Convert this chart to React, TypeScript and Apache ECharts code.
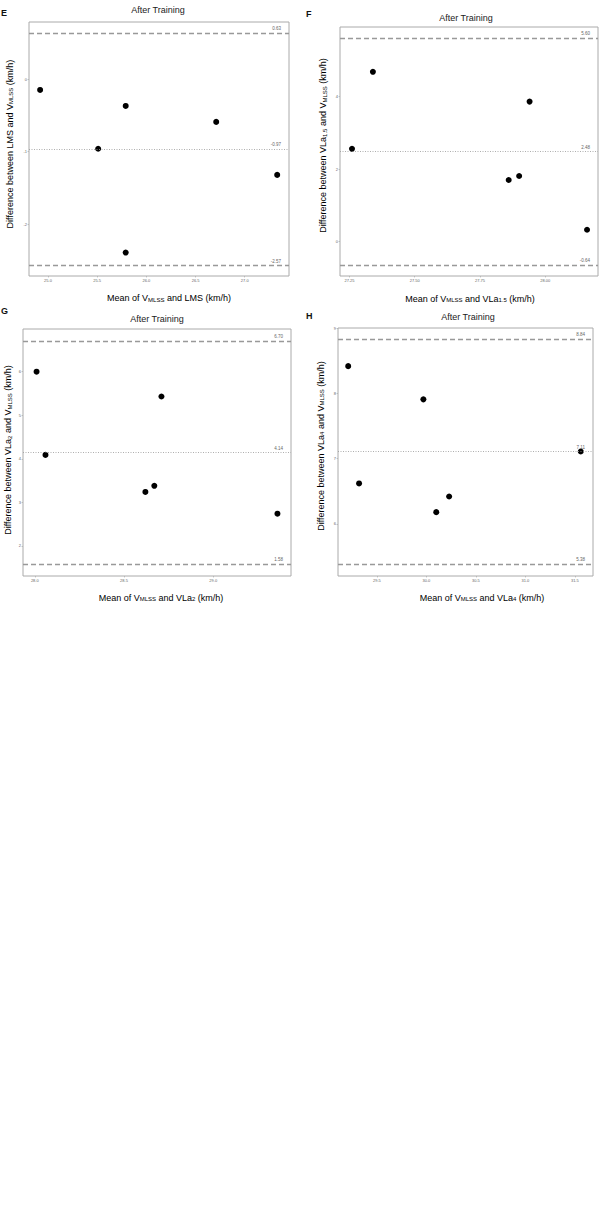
import React, { useEffect, useRef } from "react";
import * as echarts from "echarts";

// ---- data ----
const E_X = [24.92, 25.51, 25.79, 26.71, 27.33, 25.79];
const E_Y = [-0.15, -0.96, -0.37, -0.59, -1.32, -2.39];
const E_LINES = [0.63, -0.97, -2.57];

const F_X = [27.26, 27.34, 27.94, 27.86, 27.9, 28.16];
const F_Y = [2.56, 4.68, 3.86, 1.7, 1.81, 0.33];
const F_LINES = [5.6, 2.48, -0.64];

const G_X = [28.01, 28.71, 28.06, 28.62, 28.67, 29.36];
const G_Y = [6.0, 5.43, 4.09, 3.24, 3.38, 2.74];
const G_LINES = [6.7, 4.14, 1.58];

const H_X = [29.21, 29.97, 31.56, 29.32, 30.1, 30.23];
const H_Y = [8.42, 7.91, 7.11, 6.62, 6.18, 6.42];
const H_LINES = [8.84, 7.11, 5.38];

const E_XTICKS = [25.0, 25.5, 26.0, 26.5, 27.0];
const E_YTICKS = [-2, -1, 0];
const F_XTICKS = [27.25, 27.5, 27.75, 28.0];
const F_YTICKS = [0, 2, 4];
const G_XTICKS = [28.0, 28.5, 29.0];
const G_YTICKS = [2, 3, 4, 5, 6];
const H_XTICKS = [29.5, 30.0, 30.5, 31.0, 31.5];
const H_YTICKS = [6, 7, 8, 9];

const PANEL_LETTERS = ["E", "F", "G", "H"];
const PANEL_TITLE = "After Training";
const X_TITLES = [
  ["Mean of V", "MLSS", " and LMS (km/h)", ""],
  ["Mean of V", "MLSS", " and VLa", "1.5", " (km/h)"],
  ["Mean of V", "MLSS", " and VLa", "2", " (km/h)"],
  ["Mean of V", "MLSS", " and VLa", "4", " (km/h)"],
];
const Y_TITLES = [
  ["Difference between LMS and V", "MLSS", " (km/h)"],
  ["Difference between VLa", "1.5", " and V", "MLSS", " (km/h)"],
  ["Difference between VLa", "2", " and V", "MLSS", " (km/h)"],
  ["Difference between VLa", "4", " and V", "MLSS", " (km/h)"],
];

// ---- layout ----
const FONT = "Liberation Sans, Arial, sans-serif";
const panels = [
  {
    x: E_X, y: E_Y, lines: E_LINES, xt: E_XTICKS, yt: E_YTICKS, xd: 1,
    grid: { left: 29, top: 22, width: 260, height: 254 },
    xr: [24.807, 27.45], yr: [-2.713, 0.786],
    letter: [1, 12.5], title: [158, 9.5], xTitle: [169, 296.5], yTitle: [8, 144],
  },
  {
    x: F_X, y: F_Y, lines: F_LINES, xt: F_XTICKS, yt: F_YTICKS, xd: 2,
    grid: { left: 340, top: 27, width: 258, height: 249 },
    xr: [27.214, 28.202], yr: [-0.944, 5.915],
    letter: [306, 13.5], title: [466, 18], xTitle: [470, 297], yTitle: [321.5, 145.5],
  },
  {
    x: G_X, y: G_Y, lines: G_LINES, xt: G_XTICKS, yt: G_YTICKS, xd: 1,
    grid: { left: 23, top: 329, width: 268, height: 247 },
    xr: [27.934, 29.436], yr: [1.31, 6.98],
    letter: [1, 311], title: [157, 319], xTitle: [161, 596], yTitle: [6.5, 450],
  },
  {
    x: H_X, y: H_Y, lines: H_LINES, xt: H_XTICKS, yt: H_YTICKS, xd: 1,
    grid: { left: 338, top: 328, width: 255, height: 248 },
    xr: [29.107, 31.684], yr: [5.2, 9.005],
    letter: [306, 315.5], title: [468, 317], xTitle: [482, 596], yTitle: [319, 446],
  },
];

const rich = {
  n: { fontSize: 9, fontFamily: FONT, color: "#222", lineHeight: 12, verticalAlign: "bottom" },
  s: { fontSize: 6, fontFamily: FONT, color: "#222", lineHeight: 8, verticalAlign: "bottom" },
};

function richText(parts: string[]) {
  return parts
    .map((p, i) => (p === "" ? "" : `{${i % 2 === 0 ? "n" : "s"}|${p}}`))
    .join("");
}

export default function App() {
  const ref = useRef<HTMLDivElement>(null);
  useEffect(() => {
    if (!ref.current) return;
    const chart = echarts.init(ref.current, null, { renderer: "svg" });

    const tickLabel = { fontSize: 4, color: "#666", fontFamily: FONT };
    const option: any = {
      animation: false,
      backgroundColor: "#fff",
      grid: panels.map((p) => ({
        ...p.grid,
        show: true,
        borderColor: "#aaa",
        borderWidth: 1,
        backgroundColor: "#fff",
        containLabel: false,
      })),
      xAxis: panels.map((p, i) => ({
        type: "value",
        gridIndex: i,
        min: p.xr[0],
        max: p.xr[1],
        axisLine: { show: false, onZero: false },
        splitLine: { show: false },
        axisTick: { show: true, length: 1.5, lineStyle: { color: "#999", width: 0.5 }, customValues: p.xt },
        axisLabel: {
          ...tickLabel,
          margin: 2,
          customValues: p.xt,
          formatter: (v: number) => v.toFixed(p.xd),
        },
      })),
      yAxis: panels.map((p, i) => ({
        type: "value",
        gridIndex: i,
        min: p.yr[0],
        max: p.yr[1],
        axisLine: { show: false, onZero: false },
        splitLine: { show: false },
        axisTick: { show: true, length: 1.5, lineStyle: { color: "#999", width: 0.5 }, customValues: p.yt },
        axisLabel: {
          ...tickLabel,
          margin: 2,
          customValues: p.yt,
          formatter: (v: number) => String(v),
        },
      })),
      series: panels.map((p, i) => ({
        type: "scatter",
        xAxisIndex: i,
        yAxisIndex: i,
        data: p.x.map((xv, k) => [xv, p.y[k]]),
        symbolSize: 6,
        itemStyle: { color: "#000", opacity: 1 },
        silent: true,
        markLine: {
          silent: true,
          symbol: "none",
          data: p.lines.map((v, k) => ({
            yAxis: v,
            lineStyle:
              k === 1
                ? { color: "#999", width: 0.8, type: [1, 1.5] }
                : { color: "#999", width: 1.3, type: [5, 3] },
            label: {
              show: true,
              position: "insideEndTop",
              formatter: v.toFixed(2),
              fontSize: 4.5,
              color: "#666",
              fontFamily: FONT,
              distance: [8, 2],
            },
          })),
        },
      })),
      graphic: panels.flatMap((p, i) => [
        {
          type: "text",
          x: p.letter[0],
          y: p.letter[1],
          style: {
            text: PANEL_LETTERS[i],
            fontSize: 9,
            fontWeight: "bold",
            fontFamily: FONT,
            fill: "#111",
            textAlign: "left",
            textVerticalAlign: "middle",
          },
        },
        {
          type: "text",
          x: p.title[0],
          y: p.title[1],
          style: {
            text: PANEL_TITLE,
            fontSize: 9,
            fontFamily: FONT,
            fill: "#222",
            textAlign: "center",
            textVerticalAlign: "middle",
          },
        },
        {
          type: "text",
          x: p.xTitle[0],
          y: p.xTitle[1],
          style: {
            text: richText(X_TITLES[i]),
            rich,
            textAlign: "center",
            textVerticalAlign: "middle",
          },
        },
        {
          type: "text",
          x: p.yTitle[0],
          y: p.yTitle[1],
          rotation: Math.PI / 2,
          style: {
            text: richText(Y_TITLES[i]),
            rich,
            textAlign: "center",
            textVerticalAlign: "middle",
          },
        },
      ]),
    };
    chart.setOption(option);
    return () => chart.dispose();
  }, []);

  return (
    <div
      ref={ref}
      style={{ position: "absolute", left: 0, top: 0, width: 601, height: 1222, background: "#fff" }}
    />
  );
}
